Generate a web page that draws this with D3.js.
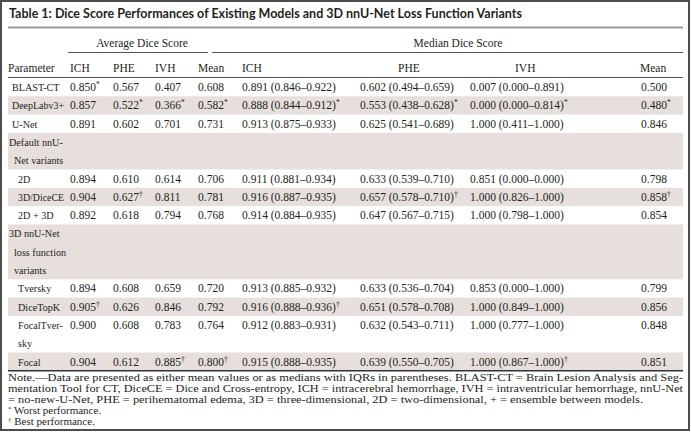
<!DOCTYPE html>
<html><head><meta charset="utf-8">
<script src="https://cdn.jsdelivr.net/npm/d3@7"></script>
<style>body{margin:0;background:#fff}svg{display:block}</style>
</head><body><svg id="c" width="691" height="432"></svg>
<script>
const title = "Table 1: Dice Score Performances of Existing Models and 3D nnU-Net Loss Function Variants";
const groupLabels = ["Average Dice Score", "Median Dice Score"];
const columnLabels = ["Parameter","ICH","PHE","IVH","Mean","ICH","PHE","IVH","Mean"];
const parameters = [["BLAST-CT"],["DeepLabv3+"],["U-Net"],["Default nnU-","Net variants"],["2D"],["3D/DiceCE"],["2D + 3D"],["3D nnU-Net","loss function","variants"],["Tversky"],["DiceTopK"],["FocalTver-","sky"],["Focal"]];
const rowKinds = ["model","model","model","group","child","child","child","group","child","child","child","child"];
const avgICH  = ["0.850*","0.857","0.891","","0.894","0.904","0.892","","0.894","0.905†","0.900","0.904"];
const avgPHE  = ["0.567","0.522*","0.602","","0.610","0.627†","0.618","","0.608","0.626","0.608","0.612"];
const avgIVH  = ["0.407","0.366*","0.701","","0.614","0.811","0.794","","0.659","0.846","0.783","0.885†"];
const avgMean = ["0.608","0.582*","0.731","","0.706","0.781","0.768","","0.720","0.792","0.764","0.800†"];
const medICH  = ["0.891 (0.846–0.922)","0.888 (0.844–0.912)*","0.913 (0.875–0.933)","","0.911 (0.881–0.934)","0.916 (0.887–0.935)","0.914 (0.884–0.935)","","0.913 (0.885–0.932)","0.916 (0.888–0.936)†","0.912 (0.883–0.931)","0.915 (0.888–0.935)"];
const medPHE  = ["0.602 (0.494–0.659)","0.553 (0.438–0.628)*","0.625 (0.541–0.689)","","0.633 (0.539–0.710)","0.657 (0.578–0.710)†","0.647 (0.567–0.715)","","0.633 (0.536–0.704)","0.651 (0.578–0.708)","0.632 (0.543–0.711)","0.639 (0.550–0.705)"];
const medIVH  = ["0.007 (0.000–0.891)","0.000 (0.000–0.814)*","1.000 (0.411–1.000)","","0.851 (0.000–0.000)","1.000 (0.826–1.000)","1.000 (0.798–1.000)","","0.853 (0.000–1.000)","1.000 (0.849–1.000)","1.000 (0.777–1.000)","1.000 (0.867–1.000)†"];
const medMean = ["0.500","0.480*","0.846","","0.798","0.858†","0.854","","0.799","0.856","0.848","0.851"];
const notes = [
  "Note.—Data are presented as either mean values or as medians with IQRs in parentheses. BLAST-CT = Brain Lesion Analysis and Seg-",
  "mentation Tool for CT, DiceCE = Dice and Cross-entropy, ICH = intracerebral hemorrhage, IVH = intraventricular hemorrhage, nnU-Net",
  "= no-new-U-Net, PHE = perihematomal edema, 3D = three-dimensional, 2D = two-dimensional, + = ensemble between models.",
  "* Worst performance.",
  "† Best performance."
];

const valueColumns = [avgICH, avgPHE, avgIVH, avgMean, medICH, medPHE, medIVH, medMean];

// layout
const W = 691, H = 432, L = 8, R = 683;
const ink = "#231f20", shade = "#e6dfdc", rule = "#555";
const serif = "'Liberation Serif', 'Times New Roman', serif";
const colX = d3.scaleOrdinal().domain(d3.range(8)).range([70,113,155,198,242,360,470,641]);
const headX = d3.scaleOrdinal().domain(d3.range(9)).range([8,70,113,155,198,242,398,515,640]);
const headerLineY = 77.5, lineH = 18.3;

const svg = d3.select("#c");
svg.append("rect").attr("x",1).attr("y",1).attr("width",W-3).attr("height",H-3)
  .attr("fill","#fff").attr("stroke","#4d4d4d").attr("stroke-width",2);

svg.append("text").attr("x",9).attr("y",18).attr("fill",ink)
  .attr("font-family","Lato, 'DejaVu Sans', sans-serif").attr("font-weight",700)
  .attr("font-size",12.5).text(title);
svg.append("line").attr("x1",L).attr("x2",R).attr("y1",27.5).attr("y2",27.5)
  .attr("stroke","#9a9a9a").attr("stroke-width",2);

// group headers
const groups = [{label:groupLabels[0], x1:68, x2:208, cx:142},{label:groupLabels[1], x1:212, x2:R, cx:458}];
groups.forEach(g => {
  svg.append("text").attr("x",g.cx).attr("y",47).attr("text-anchor","middle")
    .attr("font-family",serif).attr("font-size",11.5).attr("fill",ink).text(g.label);
  svg.append("line").attr("x1",g.x1).attr("x2",g.x2).attr("y1",52.5).attr("y2",52.5)
    .attr("stroke",rule).attr("stroke-width",1);
});
columnLabels.forEach((c,i) => {
  svg.append("text").attr("x",headX(i)).attr("y",72).attr("font-family",serif)
    .attr("font-size",11.5).attr("fill",ink).text(c);
});
svg.append("line").attr("x1",L).attr("x2",R).attr("y1",headerLineY).attr("y2",headerLineY)
  .attr("stroke",rule).attr("stroke-width",1);

// rows
let y = headerLineY + 0.5;
const rows = parameters.map((p,i) => {
  const h = lineH*p.length;
  const r = {i, top:y, h, lines:p, kind:rowKinds[i]};
  y += h; return r;
});

function addValue(sel, str) {
  const m = str.match(/^(.*?)([*†]?)$/);
  sel.append("tspan").text(m[1]);
  if (m[2]) sel.append("tspan").attr("font-size",7.5).attr("dy",-4).text(m[2]);
}

const g = svg.append("g");
rows.forEach(r => {
  if (r.i % 2 === 1) g.append("rect").attr("x",L).attr("y",r.top).attr("width",R-L).attr("height",r.h).attr("fill",shade);
  const base = r.top + 13;
  r.lines.forEach((ln,k) => {
    const x = r.kind === "model" ? 12 : r.kind === "child" ? 18 : (k === 0 ? 9 : 14);
    const t = g.append("text").attr("x",x).attr("y",base + k*lineH).attr("font-family",serif)
      .attr("font-size",10.8).attr("fill",ink).text(ln);
    const nat = t.node().getComputedTextLength();
    const maxW = r.kind === "group" ? 999 : 64 - x;
    t.attr("textLength",Math.min(nat*0.94, maxW)).attr("lengthAdjust","spacingAndGlyphs");
  });
  valueColumns.forEach((col,c) => {
    const v = col[r.i];
    if (!v) return;
    const t = g.append("text").attr("x",colX(c)).attr("y",base).attr("font-family",serif)
      .attr("font-size",11.5).attr("fill",ink);
    addValue(t, v);
  });
});
const bottomY = y;
svg.append("line").attr("x1",L).attr("x2",R).attr("y1",bottomY).attr("y2",bottomY)
  .attr("stroke","#333").attr("stroke-width",1.5);

// notes
const noteW = [R-L, R-L, 635, null, null];
notes.forEach((n,i) => {
  const t = svg.append("text").attr("x",L).attr("y",bottomY + 10.5 + i*11)
    .attr("font-family",serif).attr("font-size",11).attr("fill",ink);
  if (i >= 3) {
    t.append("tspan").attr("font-size",7).attr("dy",-3.5).text(n[0]);
    t.append("tspan").attr("dy",3.5).text(n.slice(1));
  } else {
    t.text(n);
    if (noteW[i]) t.attr("textLength",noteW[i]).attr("lengthAdjust","spacingAndGlyphs");
  }
});
</script></body></html>
